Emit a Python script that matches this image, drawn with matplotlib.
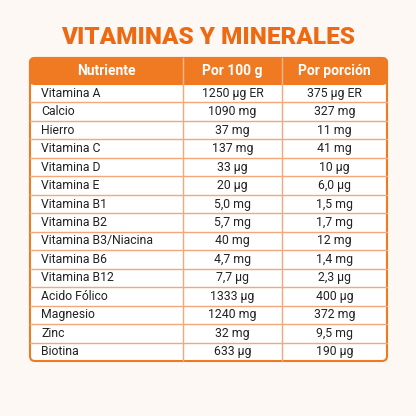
import matplotlib
matplotlib.use("Agg")
import matplotlib.pyplot as plt
from matplotlib.patches import FancyBboxPatch, Rectangle

title = "VITAMINAS Y MINERALES"
columns = ["Nutriente", "Por 100 g", "Por porción"]
nutrients = ["Vitamina A", "Calcio", "Hierro", "Vitamina C", "Vitamina D", "Vitamina E",
             "Vitamina B1", "Vitamina B2", "Vitamina B3/Niacina", "Vitamina B6", "Vitamina B12",
             "Acido Fólico", "Magnesio", "Zinc", "Biotina"]
per100 = ["1250 µg ER", "1090 mg", "37 mg", "137 mg", "33 µg", "20 µg", "5,0 mg", "5,7 mg",
          "40 mg", "4,7 mg", "7,7 µg", "1333 µg", "1240 mg", "32 mg", "633 µg"]
perportion = ["375 µg ER", "327 mg", "11 mg", "41 mg", "10 µg", "6,0 µg", "1,5 mg", "1,7 mg",
              "12 mg", "1,4 mg", "2,3 µg", "400 µg", "372 mg", "9,5 mg", "190 µg"]

plt.rcParams['font.family'] = ['Roboto', 'DejaVu Sans']
fig = plt.figure(figsize=(4.16, 4.16), dpi=100)
ax = fig.add_axes([0, 0, 1, 1])
ax.set_xlim(0, 416); ax.set_ylim(416, 0); ax.axis('off')
fig.patch.set_facecolor('#fdf8f4')

orange = '#f07a22'
line = '#f4a77a'
ax.text(208, 37, title, ha='center', va='center', fontsize=17.5, fontweight='heavy',
        color='#ee6a12')

x0, x1, x2, x3 = 30, 183, 282, 387
ytop, yh = 58, 84
n = len(nutrients)
rh = (361 - yh) / n

ax.add_patch(FancyBboxPatch((x0, ytop), x3 - x0, 361 - ytop, boxstyle="round,pad=0,rounding_size=5",
                            facecolor='white', edgecolor=orange, lw=1.5, zorder=1))
ax.add_patch(FancyBboxPatch((x0, ytop), x3 - x0, yh - ytop, boxstyle="round,pad=0,rounding_size=5",
                            facecolor=orange, edgecolor=orange, lw=1.5, zorder=2))
ax.add_patch(Rectangle((x0, yh - 6), x3 - x0, 6, facecolor=orange, edgecolor='none', zorder=2))

for x in (x1, x2):
    ax.plot([x, x], [ytop, yh], color='#f6b88a', lw=1, zorder=3)
    ax.plot([x, x], [yh, 361], color=line, lw=1, zorder=3)
for i in range(1, n):
    y = yh + i * rh
    ax.plot([x0, x3], [y, y], color=line, lw=1, zorder=3)

hy = (ytop + yh) / 2
for cx, c in zip([(x0 + x1) / 2, (x1 + x2) / 2, (x2 + x3) / 2], columns):
    ax.text(cx, hy, c, ha='center', va='center', color='white', fontsize=10, fontweight='bold', zorder=4)

for i in range(n):
    y = yh + (i + 0.5) * rh
    ax.text(41, y, nutrients[i], ha='left', va='center', fontsize=8.8, color='#222222', zorder=4)
    ax.text((x1 + x2) / 2, y, per100[i], ha='center', va='center', fontsize=8.8, color='#222222', zorder=4)
    ax.text((x2 + x3) / 2, y, perportion[i], ha='center', va='center', fontsize=8.8, color='#222222', zorder=4)

fig.savefig('out.png', dpi=100, facecolor=fig.get_facecolor())
